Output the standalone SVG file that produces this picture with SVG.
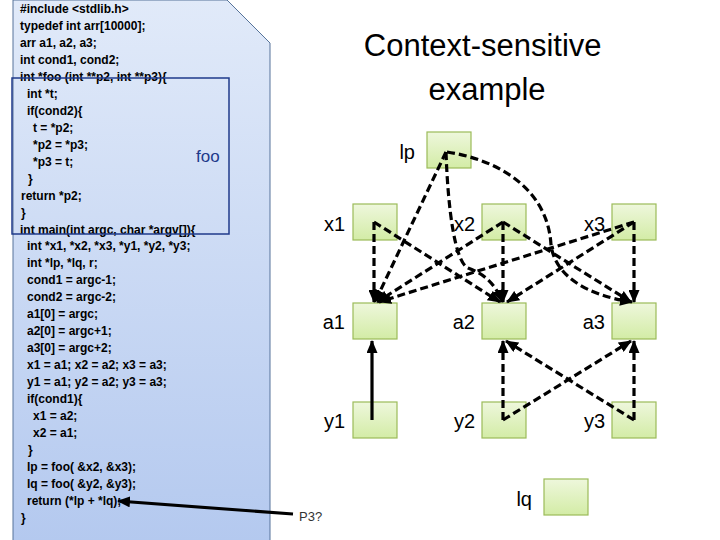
<svg xmlns="http://www.w3.org/2000/svg" width="720" height="540" viewBox="0 0 720 540">
<style>
.code{font-family:"Liberation Sans",Arial,sans-serif;font-size:12px;font-weight:bold;fill:#000}
.lbl{font-family:"Liberation Sans",Arial,sans-serif;font-size:20px;fill:#000;text-anchor:end}
.node{fill:url(#ng);stroke:#9bbb59;stroke-width:1.2}
.e{fill:none;stroke:#000;stroke-width:3.2;stroke-dasharray:8 4;marker-end:url(#ah)}
.s{fill:none;stroke:#000;stroke-width:3.2;marker-end:url(#ah)}
</style>
<defs>
<linearGradient id="pg" x1="0" y1="0" x2="0" y2="1">
<stop offset="0" stop-color="#e1eaf9"/>
<stop offset="1" stop-color="#b4c9ef"/>
</linearGradient>
<linearGradient id="ng" x1="0" y1="0" x2="0" y2="1">
<stop offset="0" stop-color="#eef7dc"/>
<stop offset="1" stop-color="#d3eca6"/>
</linearGradient>
<marker id="ah" markerUnits="userSpaceOnUse" markerWidth="13" markerHeight="11" refX="12" refY="5.5" orient="auto">
<path d="M0,0 L13,5.5 L0,11 z" fill="#000"/>
</marker>
</defs>
<rect width="720" height="540" fill="#fff"/>

<g id="code-panel">
<path d="M13,0 L227,0 L270,43 L270,541 L13,541 Z" fill="url(#pg)" stroke="#56739a" stroke-width="1"/>
<text class="code">
<tspan x="20" y="13">#include &lt;stdlib.h&gt;</tspan>
<tspan x="20" y="30">typedef int arr[10000];</tspan>
<tspan x="20" y="47">arr a1, a2, a3;</tspan>
<tspan x="20" y="64">int cond1, cond2;</tspan>
<tspan x="20" y="81">int *foo (int **p2, int **p3){</tspan>
<tspan x="27" y="98">int *t;</tspan>
<tspan x="27" y="115">if(cond2){</tspan>
<tspan x="33" y="132">t = *p2;</tspan>
<tspan x="33" y="149">*p2 = *p3;</tspan>
<tspan x="33" y="166">*p3 = t;</tspan>
<tspan x="28" y="183">}</tspan>
<tspan x="21" y="200">return *p2;</tspan>
<tspan x="21" y="217">}</tspan>
<tspan x="20" y="234">int main(int argc, char *argv[]){</tspan>
<tspan x="27" y="250">int *x1, *x2, *x3, *y1, *y2, *y3;</tspan>
<tspan x="27" y="267">int *lp, *lq, r;</tspan>
<tspan x="27" y="284">cond1 = argc-1;</tspan>
<tspan x="27" y="301">cond2 = argc-2;</tspan>
<tspan x="27" y="318">a1[0] = argc;</tspan>
<tspan x="27" y="335">a2[0] = argc+1;</tspan>
<tspan x="27" y="352">a3[0] = argc+2;</tspan>
<tspan x="27" y="369">x1 = a1; x2 = a2; x3 = a3;</tspan>
<tspan x="27" y="386">y1 = a1; y2 = a2; y3 = a3;</tspan>
<tspan x="27" y="403">if(cond1){</tspan>
<tspan x="33" y="420">x1 = a2;</tspan>
<tspan x="33" y="437">x2 = a1;</tspan>
<tspan x="28" y="454">}</tspan>
<tspan x="27" y="471">lp = foo( &amp;x2, &amp;x3);</tspan>
<tspan x="27" y="488">lq = foo( &amp;y2, &amp;y3);</tspan>
<tspan x="27" y="505">return (*lp + *lq);</tspan>
<tspan x="21" y="522">}</tspan>
</text>
</g>

<g id="foo-box">
<rect x="12" y="78" width="217" height="156" fill="none" stroke="#1f3a8a" stroke-width="1.5"/>
<text x="196" y="162" font-family="Liberation Sans, Arial, sans-serif" font-size="17" fill="#1f3a8a">foo</text>
</g>

<g id="title">
<text font-family="Liberation Sans, Arial, sans-serif" font-size="31" fill="#000" text-anchor="middle">
<tspan x="487" y="56">Context-sensitive</tspan>
<tspan x="487" y="100">example</tspan>
</text>
</g>

<g id="n-lp"><rect class="node" x="427" y="132" width="44" height="36"/><text class="lbl" x="415" y="159">lp</text></g>
<g id="n-x1"><rect class="node" x="353" y="204" width="44" height="36"/><text class="lbl" x="345" y="231">x1</text></g>
<g id="n-x2"><rect class="node" x="482" y="204" width="44" height="36"/><text class="lbl" x="475" y="231">x2</text></g>
<g id="n-x3"><rect class="node" x="612" y="204" width="44" height="36"/><text class="lbl" x="605" y="231">x3</text></g>
<g id="n-a1"><rect class="node" x="353" y="303" width="44" height="36"/><text class="lbl" x="345" y="329">a1</text></g>
<g id="n-a2"><rect class="node" x="482" y="303" width="44" height="36"/><text class="lbl" x="475" y="329">a2</text></g>
<g id="n-a3"><rect class="node" x="612" y="303" width="44" height="36"/><text class="lbl" x="605" y="329">a3</text></g>
<g id="n-y1"><rect class="node" x="353" y="402" width="44" height="36"/><text class="lbl" x="345" y="428">y1</text></g>
<g id="n-y2"><rect class="node" x="482" y="402" width="44" height="36"/><text class="lbl" x="475" y="428">y2</text></g>
<g id="n-y3"><rect class="node" x="612" y="402" width="44" height="36"/><text class="lbl" x="605" y="428">y3</text></g>
<g id="n-lq"><rect class="node" x="544" y="479" width="44" height="36"/><text class="lbl" x="532" y="506">lq</text></g>
<g id="p3-label"><text x="299" y="521" font-family="Liberation Sans, Arial, sans-serif" font-size="13" fill="#333">P3?</text></g>

<g id="connectors">
<path class="e" d="M374,222 L374,302"/>
<path class="e" d="M374,222 L500,302"/>
<path class="e" d="M503,222 L377,302"/>
<path class="e" d="M503,222 L503,302"/>
<path class="e" d="M503,222 L631,302"/>
<path class="e" d="M634,222 L379,302"/>
<path class="e" d="M634,222 L507,302"/>
<path class="e" d="M634,222 L634,302"/>
<path class="e" d="M446,152 L375,302"/>
<path class="e" d="M446,152 C448,210 455,262 468,268 C485,274 496,285 502,302"/>
<path class="e" d="M447,152 C500,160 548,190 551,245 C555,275 585,295 632,302"/>
<path class="s" d="M372,420 L372,341"/>
<path class="e" d="M503,420 L503,341"/>
<path class="e" d="M503,420 L631,341"/>
<path class="e" d="M634,420 L506,341"/>
<path class="e" d="M634,420 L634,341"/>
<path class="s" d="M293,514 L118,501"/>
</g>
</svg>
